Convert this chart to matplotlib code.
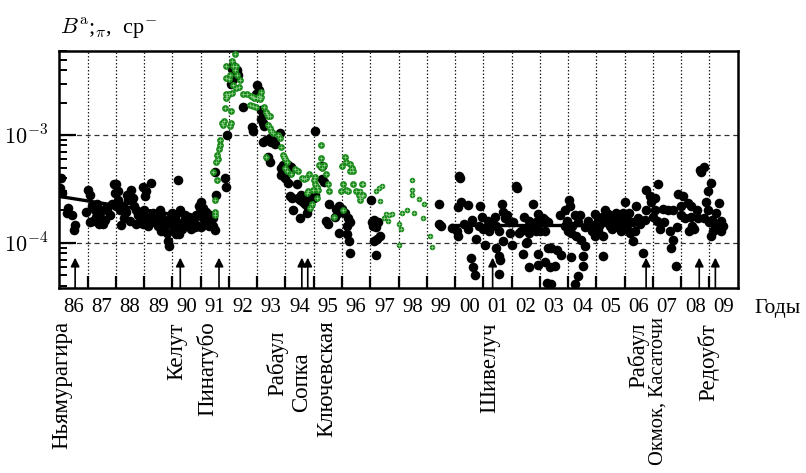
import matplotlib
matplotlib.use("Agg")
import matplotlib.pyplot as plt
from matplotlib.transforms import blended_transform_factory

plt.rcParams["font.family"] = ["Liberation Serif", "DejaVu Serif"]
plt.rcParams["mathtext.fontset"] = "cm"

# --- backscatter measurements, black: lidar points, 1986 .. mid 1991
BLACK_A_YEAR = [
    1986.05, 1986.03, 1986.10, 1986.32, 1986.28, 1986.46, 1986.55, 1986.52,
    1987.03, 1987.08, 1986.96, 1987.14, 1987.25, 1987.30, 1987.20, 1987.45,
    1987.55, 1987.40, 1987.70, 1987.80, 1987.65, 1987.92, 1988.02, 1988.08,
    1987.97, 1988.20, 1988.55, 1988.08, 1988.15, 1988.25, 1988.37, 1988.43,
    1988.60, 1988.65, 1988.72, 1988.78, 1988.85, 1988.70, 1988.95, 1989.08,
    1989.25, 1989.02, 1989.00, 1989.10, 1989.20, 1989.30, 1989.35, 1989.45,
    1989.50, 1989.60, 1989.70, 1989.75, 1989.80, 1989.15, 1988.95, 1989.55,
    1989.88, 1989.85, 1990.20, 1990.28, 1990.45, 1990.08, 1990.25, 1990.35,
    1989.95, 1990.12, 1990.25, 1990.55, 1990.65, 1990.95, 1990.97, 1991.07,
    1991.12, 1991.25, 1990.90, 1990.80, 1991.35, 1991.45, 1991.30, 1990.70,
    1990.85, 1991.00, 1991.08, 1991.20, 1991.32, 1991.44, 1991.08, 1991.26,
    1991.00, 1991.50, 1987.35, 1987.50, 1987.60, 1987.85, 1988.30, 1988.50,
    1988.40, 1988.90, 1989.40, 1989.65, 1989.90, 1990.00, 1990.40, 1990.60,
    1990.75, 1991.15, 1989.60, 1990.05, 1987.10, 1988.00,
]
BLACK_A_VAL = [
    4.0e-4, 3.2e-4, 2.9e-4, 2.1e-4, 1.9e-4, 1.8e-4, 1.48e-4, 1.32e-4,
    3.1e-4, 2.8e-4, 1.95e-4, 2.2e-4, 2.0e-4, 1.75e-4, 1.6e-4, 1.75e-4,
    1.5e-4, 1.5e-4, 2.0e-4, 1.8e-4, 2.1e-4, 3.5e-4, 3.5e-4, 3.0e-4,
    2.9e-4, 1.48e-4, 3.1e-4, 2.5e-4, 2.0e-4, 2.2e-4, 1.95e-4, 2.5e-4,
    2.6e-4, 2.2e-4, 2.0e-4, 1.8e-4, 1.55e-4, 1.5e-4, 3.3e-4, 3.0e-4,
    3.6e-4, 2.7e-4, 2.0e-4, 1.75e-4, 1.6e-4, 1.9e-4, 1.55e-4, 1.7e-4,
    1.45e-4, 1.8e-4, 1.35e-4, 1.6e-4, 1.25e-4, 1.45e-4, 1.5e-4, 2.0e-4,
    9.3e-5, 1.05e-4, 3.8e-4, 2.0e-4, 1.8e-4, 1.7e-4, 1.5e-4, 1.35e-4,
    1.5e-4, 1.2e-4, 1.2e-4, 1.5e-4, 1.35e-4, 2.2e-4, 1.95e-4, 1.9e-4,
    1.7e-4, 1.6e-4, 1.45e-4, 1.4e-4, 1.7e-4, 1.45e-4, 1.45e-4, 1.7e-4,
    1.8e-4, 2.4e-4, 2.1e-4, 1.95e-4, 1.8e-4, 1.7e-4, 1.7e-4, 1.6e-4,
    1.42e-4, 1.33e-4, 2.3e-4, 2.0e-4, 1.65e-4, 2.3e-4, 1.7e-4, 1.6e-4,
    2.8e-4, 1.75e-4, 1.85e-4, 1.5e-4, 1.7e-4, 1.9e-4, 1.6e-4, 1.75e-4,
    1.55e-4, 1.5e-4, 1.3e-4, 1.35e-4, 1.55e-4, 2.2e-4,
]

# --- black: Pinatubo cloud and its decay, 1991.5 .. 1997.4
BLACK_B_YEAR = [
    1991.50, 1991.55, 1991.85, 1991.90, 1991.95, 1992.15, 1992.27, 1992.32,
    1992.20, 1992.10, 1992.14, 1992.08, 1992.50, 1993.00, 1993.05, 1992.95,
    1993.00, 1993.13, 1993.20, 1993.25, 1992.80, 1992.85, 1993.15, 1993.20,
    1993.25, 1993.20, 1993.32, 1993.45, 1993.50, 1993.62, 1993.55, 1993.80,
    1993.38, 1993.45, 1993.85, 1993.90, 1993.97, 1994.10, 1994.15, 1994.20,
    1993.85, 1993.97, 1994.10, 1994.15, 1994.15, 1994.22, 1994.45, 1994.50,
    1994.62, 1994.55, 1994.75, 1994.68, 1994.27, 1994.50, 1994.75, 1994.80,
    1994.42, 1995.05, 1995.30, 1995.35, 1995.45, 1995.50, 1995.75, 1995.80,
    1995.85, 1995.90, 1996.00, 1996.10, 1996.22, 1996.28, 1996.18, 1995.90,
    1996.18, 1996.25, 1996.30, 1995.05, 1995.00, 1995.30, 1995.55,
    1997.02, 1997.05, 1997.10, 1997.15, 1997.20, 1997.27, 1997.15, 1997.25,
    1997.35, 1997.20,
]
BLACK_B_VAL = [
    4.5e-4, 2.8e-4, 4.0e-4, 3.3e-4, 1.0e-3, 4.4e-3, 4.0e-3, 3.6e-3,
    3.8e-3, 4.1e-3, 3.3e-3, 3.0e-3, 1.8e-3, 2.9e-3, 2.6e-3, 2.4e-3,
    2.3e-3, 1.7e-3, 1.6e-3, 1.55e-3, 1.18e-3, 1.1e-3, 1.4e-3, 1.3e-3,
    1.2e-3, 8.7e-4, 8.9e-4, 9.3e-4, 8.7e-4, 8.3e-4, 8.8e-4, 1.05e-3,
    6.3e-4, 5.6e-4, 5.0e-4, 5.3e-4, 5.1e-4, 5.3e-4, 5.1e-4, 5.1e-4,
    4.3e-4, 4.0e-4, 3.6e-4, 4.5e-4, 2.7e-4, 2.6e-4, 2.6e-4, 2.5e-4,
    2.4e-4, 2.8e-4, 2.6e-4, 2.3e-4, 2.0e-4, 1.7e-4, 1.9e-4, 2.1e-4,
    3.5e-4, 1.1e-3, 3.9e-4, 3.7e-4, 1.6e-4, 1.5e-4, 1.75e-4, 2.05e-4,
    1.9e-4, 2.2e-4, 2.05e-4, 1.9e-4, 1.7e-4, 1.55e-4, 1.45e-4, 1.25e-4,
    1.2e-4, 1.05e-4, 8.1e-5, 2.8e-4, 2.6e-4, 5.2e-4, 2.3e-4,
    2.5e-4, 1.55e-4, 1.45e-4, 1.65e-4, 1.4e-4, 1.55e-4, 1.05e-4, 1.1e-4,
    1.15e-4, 7.7e-5,
]

# --- black: 1999 .. 2003
BLACK_C_YEAR = [
    1999.45, 1999.45, 1999.50, 2000.13, 2000.17, 2000.20, 2000.12, 2000.45,
    1999.90, 2000.08, 2000.12, 2000.55, 2000.62, 2000.70, 2000.45, 2000.75,
    2000.90, 2000.97, 2000.85, 2001.05, 2001.40, 2001.45, 2001.55, 2001.65,
    2001.70, 2001.75, 2001.85, 2001.90, 2001.70, 2001.45, 2001.55, 2001.60,
    2001.55, 2002.15, 2002.20, 2002.00, 2002.35, 2002.25, 2002.45, 2002.50,
    2002.40, 2002.60, 2002.75, 2002.95, 2003.05, 2003.10, 2002.85, 2002.60,
    2002.55, 2002.95, 2002.95, 2003.30, 2003.35, 2003.25, 2001.30, 2001.15,
    2002.05, 2002.60, 2002.45, 2000.30, 2000.60, 2001.00, 2001.20, 2001.95,
    2002.70, 2003.00, 2002.85,
]
BLACK_C_VAL = [
    2.3e-4, 1.5e-4, 1.45e-4, 4.2e-4, 4.0e-4, 2.4e-4, 2.15e-4, 2.25e-4,
    1.38e-4, 1.3e-4, 1.15e-4, 7.2e-5, 6.0e-5, 5.0e-5, 1.35e-4, 1.1e-4,
    2.2e-4, 1.75e-4, 1.45e-4, 9.5e-5, 1.75e-4, 1.45e-4, 1.28e-4, 2.3e-4,
    1.95e-4, 1.7e-4, 1.8e-4, 1.55e-4, 1.05e-4, 9.0e-5, 7.6e-5, 7.0e-5,
    5.2e-5, 3.4e-4, 3.2e-4, 9.5e-5, 1.3e-4, 1.25e-4, 1.35e-4, 1.0e-4,
    7.9e-5, 6.0e-5, 2.3e-4, 1.85e-4, 1.6e-4, 1.7e-4, 1.3e-4, 1.25e-4,
    1.02e-4, 7.9e-5, 6.3e-5, 9.0e-5, 6.0e-5, 4.3e-5, 1.5e-4, 1.6e-4,
    1.55e-4, 1.6e-4, 1.75e-4, 1.5e-4, 1.65e-4, 1.35e-4, 1.3e-4, 1.25e-4,
    1.45e-4, 1.3e-4, 1.55e-4,
]

# --- black: 2003 .. 2009
BLACK_D_YEAR = [
    2003.18, 2003.30, 2003.18, 2003.41, 2003.59, 2003.76, 2003.18, 2003.53,
    2003.41, 2003.71, 2003.88, 2004.02, 2004.06, 2004.24, 2004.41, 2003.88,
    2004.00, 2004.12, 2004.29, 2004.47, 2004.59, 2004.53, 2004.53, 2004.35,
    2004.24, 2004.12, 2004.94, 2005.06, 2005.18, 2005.29, 2005.41, 2005.53,
    2005.71, 2005.82, 2006.00, 2005.94, 2006.06, 2006.18, 2005.06, 2005.24,
    2004.94, 2005.47, 2005.65, 2005.76, 2005.88, 2005.24, 2006.29, 2006.35,
    2006.41, 2006.47, 2006.65, 2006.76, 2006.88, 2007.18, 2007.06, 2006.94,
    2006.76, 2007.06, 2007.00, 2006.71, 2007.24, 2007.35, 2007.53, 2007.71,
    2007.59, 2007.71, 2007.65, 2007.82, 2007.88, 2008.06, 2008.00, 2008.00,
    2008.24, 2008.35, 2008.29, 2008.47, 2008.59, 2008.35, 2008.65, 2008.71,
    2008.80, 2009.06, 2008.94, 2008.88, 2008.94, 2008.82, 2009.00, 2009.12,
    2009.24, 2009.29, 2009.35, 2009.41, 2009.47, 2009.06, 2009.18, 2004.70,
    2004.80, 2005.00, 2005.35, 2005.60, 2006.10, 2006.20, 2004.60, 2004.85,
    2005.10, 2005.20, 2005.45, 2005.55, 2005.70, 2005.90, 2006.05, 2006.15,
    2006.30, 2006.55, 2007.15, 2007.40, 2007.85, 2008.15, 2008.40, 2008.55,
    2009.10, 2009.40, 2003.95, 2004.15, 2004.35,
]
BLACK_D_VAL = [
    1.65e-4, 1.55e-4, 1.3e-4, 9.0e-5, 8.6e-5, 7.8e-5, 6.6e-5, 6.1e-5,
    4.2e-5, 1.8e-4, 2.0e-4, 2.5e-4, 2.2e-4, 1.8e-4, 1.8e-4, 1.45e-4,
    1.3e-4, 1.23e-4, 1.15e-4, 1.07e-4, 9.3e-5, 7.6e-5, 6.1e-5, 4.9e-5,
    4.2e-5, 7.4e-5, 1.85e-4, 1.7e-4, 1.55e-4, 2.0e-4, 1.85e-4, 1.65e-4,
    1.9e-4, 1.75e-4, 2.4e-4, 1.9e-4, 1.7e-4, 1.55e-4, 1.3e-4, 1.15e-4,
    1.15e-4, 1.45e-4, 1.45e-4, 1.4e-4, 1.3e-4, 7.6e-5, 1.05e-4, 1.3e-4,
    2.2e-4, 1.7e-4, 8.0e-5, 3.1e-4, 2.7e-4, 3.5e-4, 2.6e-4, 2.4e-4,
    2.0e-4, 2.0e-4, 1.75e-4, 1.65e-4, 1.35e-4, 2.05e-4, 2.0e-4, 2.0e-4,
    1.3e-4, 1.07e-4, 9.0e-5, 6.1e-5, 2.85e-4, 2.7e-4, 2.2e-4, 1.8e-4,
    2.35e-4, 2.2e-4, 1.3e-4, 1.35e-4, 1.7e-4, 1.75e-4, 4.7e-4, 4.5e-4,
    5.1e-4, 3.6e-4, 3.0e-4, 2.4e-4, 2.0e-4, 1.7e-4, 1.55e-4, 1.3e-4,
    1.9e-4, 1.35e-4, 2.35e-4, 1.6e-4, 1.45e-4, 1.15e-4, 1.45e-4, 1.6e-4,
    1.45e-4, 1.5e-4, 1.6e-4, 1.55e-4, 1.35e-4, 1.25e-4, 1.4e-4, 1.3e-4,
    1.45e-4, 1.75e-4, 1.55e-4, 1.35e-4, 1.6e-4, 1.5e-4, 1.45e-4, 1.9e-4,
    1.55e-4, 1.5e-4, 1.6e-4, 1.55e-4, 1.4e-4, 1.7e-4, 1.45e-4, 2.0e-4,
    1.65e-4, 1.3e-4, 1.6e-4, 1.45e-4, 1.55e-4,
]

# --- green: second data set, Pinatubo 1991.5 .. 1996.8
GREEN_A_YEAR = [
    1991.50, 1991.52, 1991.50, 1991.58, 1991.45, 1991.55, 1991.60, 1991.58,
    1991.65, 1991.68, 1991.70, 1991.75, 1991.78, 1991.82, 1991.85, 1991.88,
    1991.88, 1991.90, 1991.90, 1992.08, 1992.08, 1992.05, 1992.20, 1992.10,
    1992.15, 1992.25, 1992.20, 1992.05, 1992.30, 1992.40, 1992.02, 1992.15,
    1992.25, 1992.35, 1992.00, 1992.12, 1991.95, 1992.50, 1992.65, 1992.78,
    1992.85, 1992.90, 1993.00, 1993.05, 1993.10, 1993.15, 1993.12, 1992.75,
    1992.85, 1992.97, 1993.25, 1993.30, 1993.35, 1993.40, 1993.45, 1993.40,
    1993.45, 1993.50, 1993.55, 1993.75, 1993.80, 1993.85, 1993.90, 1993.95,
    1994.00, 1994.05, 1993.30, 1994.00, 1994.05, 1994.20, 1994.35, 1994.45,
    1994.60, 1994.65, 1994.72, 1994.85, 1994.80, 1994.75, 1995.00, 1995.05,
    1995.10, 1995.15, 1994.98, 1995.10, 1995.05, 1994.93, 1994.88, 1995.25,
    1995.25, 1995.20, 1995.30, 1995.35, 1995.45, 1995.50, 1995.55, 1996.10,
    1996.15, 1996.30, 1996.35, 1996.40, 1996.30, 1996.00, 1996.05, 1996.15,
    1996.20, 1995.95, 1996.40, 1996.50, 1996.60, 1996.70, 1996.75, 1996.65,
    1996.05, 1995.73,
]
GREEN_A_VAL = [
    1.95e-4, 1.8e-4, 2.5e-4, 3.8e-4, 4.5e-4, 5.6e-4, 6.0e-4, 6.6e-4,
    7.5e-4, 8.1e-4, 9.0e-4, 1.3e-3, 1.25e-3, 1.35e-3, 1.78e-3, 2.2e-3,
    2.4e-3, 3.4e-3, 4.4e-3, 1.66e-3, 1.3e-3, 1.2e-3, 5.6e-3, 4.8e-3,
    4.4e-3, 4.4e-3, 4.0e-3, 3.6e-3, 3.6e-3, 3.2e-3, 3.3e-3, 2.9e-3,
    2.7e-3, 2.8e-3, 2.4e-3, 2.45e-3, 2.3e-3, 2.4e-3, 2.4e-3, 2.3e-3,
    2.25e-3, 2.2e-3, 2.2e-3, 2.3e-3, 2.15e-3, 2.5e-3, 2.25e-3, 1.9e-3,
    1.85e-3, 1.8e-3, 1.8e-3, 1.65e-3, 1.55e-3, 1.5e-3, 1.5e-3, 1.25e-3,
    1.15e-3, 1.1e-3, 1.05e-3, 1.0e-3, 9.3e-4, 7.8e-4, 6.6e-4, 6.3e-4,
    6.0e-4, 5.6e-4, 6.3e-4, 5.0e-4, 4.6e-4, 4.4e-4, 4.8e-4, 4.6e-4,
    4.0e-4, 3.9e-4, 4.0e-4, 4.4e-4, 3.0e-4, 2.9e-4, 3.8e-4, 3.5e-4,
    3.3e-4, 3.1e-4, 3.1e-4, 2.6e-4, 4.1e-4, 2.3e-4, 2.1e-4, 8.1e-4,
    6.1e-4, 5.3e-4, 5.0e-4, 5.3e-4, 4.4e-4, 3.5e-4, 3.0e-4, 6.3e-4,
    5.6e-4, 5.4e-4, 5.0e-4, 4.6e-4, 4.6e-4, 5.2e-4, 3.5e-4, 3.1e-4,
    3.0e-4, 3.0e-4, 3.5e-4, 3.0e-4, 2.8e-4, 3.5e-4, 2.8e-4, 2.5e-4,
    2.0e-4, 1.75e-4,
]

# --- green: 1996.6 .. 1999.2, smaller symbols
GREEN_B_YEAR = [
    1996.76, 1996.65, 1996.70, 1996.65, 1997.20, 1997.30, 1997.42, 1997.33,
    1997.55, 1997.65, 1997.78, 1997.50, 1997.62, 1998.00, 1998.10, 1998.00,
    1998.12, 1998.30, 1998.56, 1998.47, 1998.47, 1998.47, 1998.72, 1998.90,
    1998.86, 1999.12, 1999.18,
]
GREEN_B_VAL = [
    3.5e-4, 3.0e-4, 2.7e-4, 2.6e-4, 3.0e-4, 3.2e-4, 3.4e-4, 2.45e-4,
    1.85e-4, 1.8e-4, 1.85e-4, 1.7e-4, 1.6e-4, 1.5e-4, 1.35e-4, 9.5e-5,
    1.9e-4, 2.0e-4, 1.9e-4, 3.8e-4, 3.1e-4, 2.8e-4, 2.55e-4, 2.3e-4,
    1.7e-4, 1.17e-4, 9.1e-5,
]

# background trend lines
TREND_EARLY_YEAR = [1986.0, 1991.35]
TREND_EARLY_VAL = [2.7e-4, 1.62e-4]
TREND_LATE_YEAR = [1999.9, 2005.6]
TREND_LATE_VAL = [1.47e-4, 1.47e-4]

# eruptions: arrow positions and the labels under the axis
ERUPTION_YEARS = [1986.56, 1990.28, 1991.65, 1994.58, 1994.79, 2001.33,
                  2006.76, 2008.64, 2009.21]
VOLCANO_LABELS = ["Ньямурагира", "Келут", "Пинатубо", "Рабаул", "Сопка",
                  "Ключевская", "Шивелуч", "Рабаул", "Окмок, Касаточи",
                  "Редоубт"]
VOLCANO_LABEL_X = [1986.10, 1990.17, 1991.23, 1993.70, 1994.59, 1995.47,
                   2001.24, 2006.48, 2007.19, 2008.96]
VOLCANO_LABEL_TOP = [321, 323, 321, 330, 352, 320, 322, 323, 317, 323]
VOLCANO_LABEL_SIZE = [16.5, 16.5, 16.5, 16.5, 16.5, 16.5, 16.5, 16.5, 14.8, 16.5]

YEAR_LABELS = ["86", "87", "88", "89", "90", "91", "92", "93", "94", "95",
               "96", "97", "98", "99", "00", "01", "02", "03", "04", "05",
               "06", "07", "08", "09"]
FIRST_YEAR = 1986

W, H = 806, 473
fig = plt.figure(figsize=(W / 100, H / 100), dpi=100)
ax = fig.add_axes([59.3 / W, 1 - 288 / H, (737.7 - 59.3) / W, (288 - 51) / H])
ax.set_yscale("log")
ax.set_xlim(1986, 2010)
ax.set_ylim(3.83e-5, 6.0e-3)

green = "#1b8a1b"
cross = "#8fd38f"
for yrs, vals in [(BLACK_A_YEAR, BLACK_A_VAL), (BLACK_B_YEAR, BLACK_B_VAL),
                  (BLACK_C_YEAR, BLACK_C_VAL), (BLACK_D_YEAR, BLACK_D_VAL)]:
    ax.scatter(yrs, vals, s=48, color="black", linewidths=0, zorder=3)

for yrs, vals, size in [(GREEN_A_YEAR, GREEN_A_VAL, 24), (GREEN_B_YEAR, GREEN_B_VAL, 16)]:
    ax.scatter(yrs, vals, s=size, color=green, linewidths=0, zorder=4)
    ax.scatter(yrs, vals, s=size * 0.5, marker="+", color=cross,
               linewidths=0.5, zorder=5)

ax.plot(TREND_EARLY_YEAR, TREND_EARLY_VAL, color="black", lw=2.4, zorder=6)
ax.plot(TREND_LATE_YEAR, TREND_LATE_VAL, color="black", lw=2.4, zorder=6)

for yr in ERUPTION_YEARS:
    ax.annotate("", xy=(yr, 0.128), xycoords=("data", "axes fraction"),
                xytext=(yr, 0.0), textcoords=("data", "axes fraction"),
                arrowprops=dict(arrowstyle="-|>", color="black", lw=1.2,
                                mutation_scale=13, shrinkA=0, shrinkB=0),
                zorder=7)

# year boundaries: ticks + dotted grid; labels sit in the middle of each year
boundaries = list(range(FIRST_YEAR + 1, FIRST_YEAR + len(YEAR_LABELS)))
centers = [FIRST_YEAR + i + 0.5 for i in range(len(YEAR_LABELS))]
ax.set_xticks(boundaries)
ax.set_xticklabels([])
ax.set_xticks(centers, YEAR_LABELS, minor=True)
ax.tick_params(axis="x", which="major", direction="in", length=9, width=1.6,
               top=False, bottom=True)
ax.tick_params(axis="x", which="minor", length=0, pad=7, labelsize=15)
ax.xaxis.grid(True, which="major", ls=(0, (1.2, 1.6)), color="#222222", lw=0.9)

ax.set_yticks([1e-4, 1e-3], [r"$10^{-4}$", r"$10^{-3}$"])
ax.tick_params(axis="y", which="major", direction="in", length=12, width=1.6,
               left=True, right=False, pad=8, labelsize=16)
ax.tick_params(axis="y", which="minor", direction="in", length=6, width=1.4,
               left=True, right=False, labelleft=False)
ax.yaxis.grid(True, which="major", ls=(0, (4, 3)), color="#333333", lw=0.9)
ax.set_axisbelow(True)

for spine in ax.spines.values():
    spine.set_linewidth(1.8)

label_tf = blended_transform_factory(ax.transData, fig.transFigure)
for name, x, top, size in zip(VOLCANO_LABELS, VOLCANO_LABEL_X,
                              VOLCANO_LABEL_TOP, VOLCANO_LABEL_SIZE):
    ax.text(x, 1 - top / H, name, transform=label_tf, rotation=90,
            ha="center", va="top", fontsize=size, clip_on=False)

fig.text(778 / W, 1 - 308 / H, "Годы", ha="center", va="center", fontsize=15.5)
fig.text(60 / W, 1 - 34 / H, r"$B^{\rm a}$;$_{\pi}$,  ср$^{-}$",
         ha="left", va="baseline", fontsize=16)

fig.savefig("out.png", dpi=100)
